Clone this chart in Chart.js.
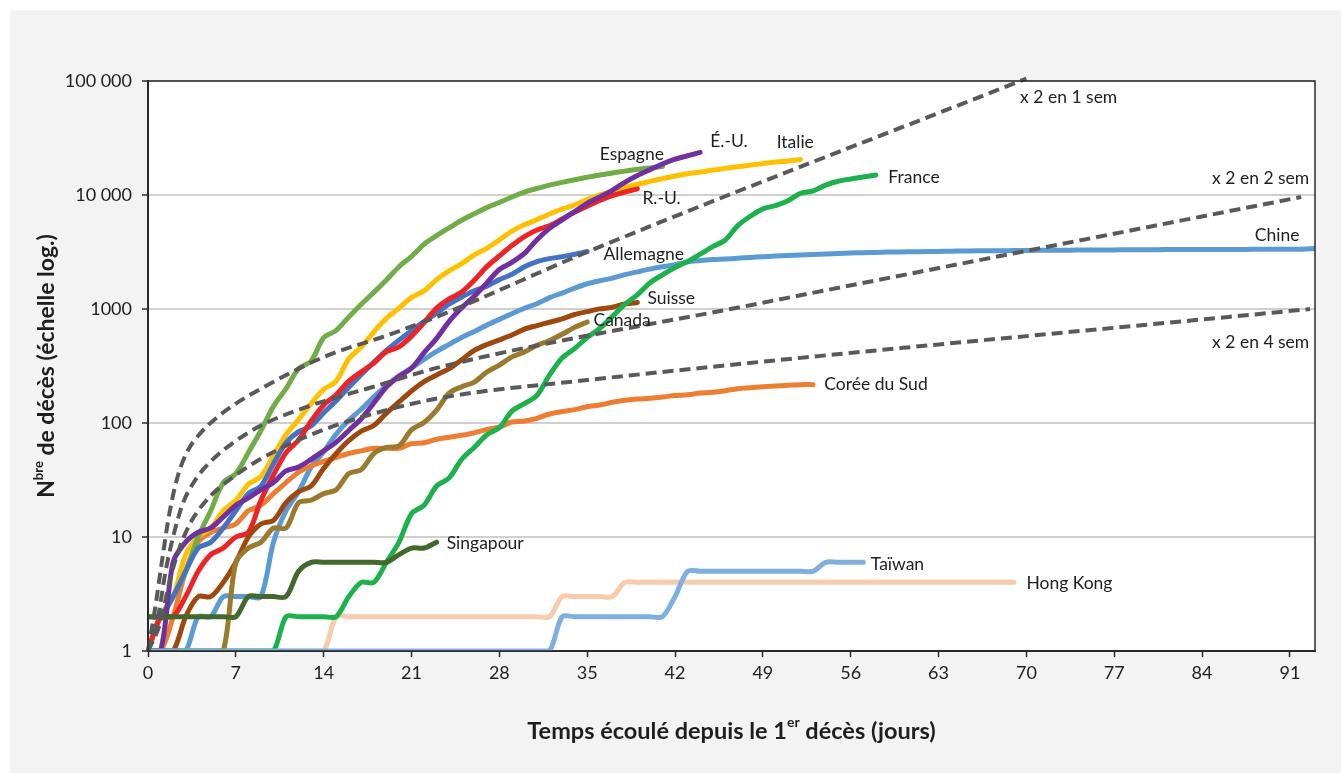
<!DOCTYPE html>
<html lang="fr">
<head>
<meta charset="utf-8">
<title>Décès cumulés depuis le 1er décès</title>
<script src="https://cdn.jsdelivr.net/npm/chart.js@4.4.0/dist/chart.umd.min.js"></script>
<style>
  html, body { margin: 0; padding: 0; background: #fff; }
  #wrap { width: 1341px; height: 773px; }
  canvas { display: block; }
</style>
</head>
<body>
<div id="wrap"><canvas id="chart" width="1341" height="773"></canvas></div>
<script>
// Cumul des décès, une valeur par jour à partir du 1er décès (jour 0)

const ESPAGNE = [1, 2, 3, 5, 10, 17, 30, 36, 55, 86, 140, 200, 300, 350, 560, 650, 850, 1100, 1400, 1800,
  2350, 2900, 3700, 4400, 5150, 6000, 6850, 7750, 8600, 9600, 10600, 11400, 12200, 12900, 13600, 14300,
  15000, 15600, 16200, 16800, 17300, 17800];

const ITALIE = [1, 2, 3, 7, 10, 12, 17, 21, 29, 34, 52, 79, 107, 148, 197, 233, 366, 463, 631, 827,
  1016, 1266, 1441, 1809, 2158, 2503, 2978, 3405, 4032, 4825, 5476, 6077, 6820, 7503, 8165, 9134,
  10023, 10779, 11591, 12428, 13155, 13915, 14681, 15362, 15887, 16523, 17127, 17669, 18279, 18849,
  19468, 19899, 20465];

const ETATS_UNIS = [1, 1, 6, 9, 11, 12, 15, 19, 22, 26, 30, 38, 41, 48, 57, 68, 86, 109, 150, 207,
  256, 302, 414, 553, 780, 1027, 1295, 1695, 2221, 2565, 3070, 4055, 5099, 6058, 7159, 8452, 9627,
  10993, 12912, 14817, 16689, 18719, 20608, 22087, 23644];

const ROYAUME_UNI = [1, 2, 2, 3, 5, 7, 8, 10, 11, 21, 35, 55, 71, 104, 144, 177, 233, 281, 335, 422,
  465, 578, 759, 1019, 1228, 1408, 1789, 2352, 2921, 3605, 4313, 4934, 5373, 6159, 7097, 7978, 8958,
  9875, 10612, 11329];

const ALLEMAGNE = [2, 2, 3, 5, 8, 9, 12, 17, 24, 28, 44, 67, 84, 94, 123, 157, 206, 267, 342, 433,
  533, 645, 775, 920, 1107, 1275, 1444, 1584, 1810, 2016, 2349, 2607, 2767, 2871, 3022, 3194];

const CHINE = [1, 1, 1, 1, 2, 2, 3, 3, 3, 3, 9, 17, 25, 41, 56, 80, 106, 132, 170, 213,
  259, 304, 361, 425, 490, 563, 636, 722, 811, 908, 1016, 1113, 1259, 1380, 1523, 1665, 1770, 1868,
  2004, 2118, 2236, 2345, 2442, 2592, 2663, 2715, 2744, 2788, 2835, 2870, 2912, 2943, 2981, 3012,
  3042, 3070, 3097, 3119, 3136, 3158, 3169, 3176, 3189, 3199, 3213, 3226, 3237, 3245, 3248, 3255,
  3261, 3270, 3277, 3281, 3287, 3292, 3295, 3300, 3304, 3305, 3312, 3318, 3322, 3326, 3330, 3331,
  3331, 3333, 3335, 3336, 3339, 3339, 3345, 3400];

const FRANCE = [1, 1, 1, 1, 1, 1, 1, 1, 1, 1, 1, 2, 2, 2, 2, 2, 3, 4, 4, 6, 9, 16, 19, 28, 33, 48,
  61, 79, 91, 127, 148, 175, 264, 372, 450, 562, 674, 860, 1100, 1331, 1696, 1995, 2314, 2606, 3024,
  3523, 4032, 5387, 6507, 7560, 8078, 8911, 10328, 10869, 12210, 13197, 13832, 14393, 14967];

const SUISSE = [1, 1, 1, 2, 3, 3, 4, 6, 10, 13, 14, 20, 25, 28, 40, 54, 70, 85, 95, 122, 153, 191,
  231, 264, 300, 359, 433, 488, 536, 591, 666, 715, 765, 821, 895, 948, 1002, 1036, 1106, 1138];

const CANADA = [1, 1, 1, 1, 1, 1, 1, 6, 8, 9, 12, 12, 20, 21, 24, 26, 36, 39, 54, 61, 63, 87, 101,
  130, 183, 208, 228, 280, 322, 380, 420, 480, 530, 600, 690, 770];

const COREE_DU_SUD = [1, 1, 2, 5, 9, 11, 12, 13, 17, 19, 24, 30, 37, 42, 46, 50, 54, 57, 60, 60,
  60, 66, 67, 72, 75, 78, 82, 88, 92, 102, 104, 110, 120, 126, 131, 139, 144, 152, 158, 162, 165,
  169, 174, 177, 183, 186, 192, 200, 204, 208, 211, 214, 217, 217];

const SINGAPOUR = [2, 2, 2, 2, 2, 2, 2, 2, 3, 3, 3, 3, 5, 6, 6, 6, 6, 6, 6, 6, 7, 8, 8, 9];

const TAIWAN = [1, 1, 1, 1, 1, 1, 1, 1, 1, 1, 1, 1, 1, 1, 1, 1, 1, 1, 1, 1, 1, 1, 1, 1, 1, 1, 1, 1,
  1, 1, 1, 1, 1, 2, 2, 2, 2, 2, 2, 2, 2, 2, 3, 5, 5, 5, 5, 5, 5, 5, 5, 5, 5, 5, 6, 6, 6, 6];

const HONG_KONG = [1, 1, 1, 1, 1, 1, 1, 1, 1, 1, 1, 1, 1, 1, 1, 2, 2, 2, 2, 2, 2, 2, 2, 2, 2, 2, 2,
  2, 2, 2, 2, 2, 2, 3, 3, 3, 3, 3, 4, 4, 4, 4, 4, 4, 4, 4, 4, 4, 4, 4, 4, 4, 4, 4, 4, 4, 4, 4, 4, 4,
  4, 4, 4, 4, 4, 4, 4, 4, 4, 4];

// Courbes de référence (doublement)
const X2_1SEM_DAYS = [0, 0.6, 1.1, 1.7, 2.4, 3.2, 4.2, 5.5, 7, 9, 13.9, 19.3, 23.3, 35, 70];
const X2_1SEM = [1, 2.5, 6, 16, 35, 58, 82, 112, 148, 200, 375, 600, 880, 3162, 105000];
const X2_2SEM_DAYS = [0, 0.8, 1.4, 2, 2.8, 3.8, 5, 6.7, 9, 12.6, 17.9, 23.3, 48, 91.9];
const X2_2SEM = [1, 2, 5, 10, 20, 32, 46, 66, 95, 138, 207, 310, 1080, 9600];
const X2_4SEM_DAYS = [0, 1, 1.7, 2.5, 3.5, 5, 6.7, 8.5, 12.6, 17.9, 23.3, 35, 92.6];
const X2_4SEM = [1, 1.8, 4, 8, 14, 23, 33, 45, 76, 120, 166, 238, 1000];

const X_TICKS = [0, 7, 14, 21, 28, 35, 42, 49, 56, 63, 70, 77, 84, 91];
const Y_TICKS = [1, 10, 100, 1000, 10000, 100000];

// ── styles ──────────────────────────────────────────────────────────────────
const FONT = 'Lato, "Noto Sans", sans-serif';
const INK = '#1e1e1e';

// de bas en haut
const SERIES = [
  { name: 'Chine',        data: CHINE,        color: '#5B9BD5' },
  { name: 'Hong Kong',    data: HONG_KONG,    color: '#F8CBAD' },
  { name: 'Corée du Sud', data: COREE_DU_SUD, color: '#ED7D31' },
  { name: 'Italie',       data: ITALIE,       color: '#FFC000' },
  { name: 'Espagne',      data: ESPAGNE,      color: '#70AD47' },
  { name: 'Allemagne',    data: ALLEMAGNE,    color: '#4472C4' },
  { name: 'R.-U.',        data: ROYAUME_UNI,  color: '#EE2326' },
  { name: 'Suisse',       data: SUISSE,       color: '#9E480E' },
  { name: 'Canada',       data: CANADA,       color: '#9A7A2C' },
  { name: 'France',       data: FRANCE,       color: '#1DB14E' },
  { name: 'É.-U.',        data: ETATS_UNIS,   color: '#7030A0' },
  { name: 'Singapour',    data: SINGAPOUR,    color: '#43682B' },
  { name: 'Taïwan',       data: TAIWAN,       color: '#7EAFDF' },
];

const REF_LINES = [
  { name: 'x 2 en 1 sem', days: X2_1SEM_DAYS, vals: X2_1SEM },
  { name: 'x 2 en 2 sem', days: X2_2SEM_DAYS, vals: X2_2SEM },
  { name: 'x 2 en 4 sem', days: X2_4SEM_DAYS, vals: X2_4SEM },
];

// étiquettes : ancrées en (jour, valeur), texte aligné à gauche
const LABELS = [
  { text: 'Espagne',      day: 36.0, value: 22900 },
  { text: 'É.-U.',        day: 44.8, value: 29700 },
  { text: 'Italie',       day: 50.1, value: 29200 },
  { text: 'France',       day: 59.0, value: 14400 },
  { text: 'R.-U.',        day: 39.4, value: 9400 },
  { text: 'Allemagne',    day: 36.3, value: 3030 },
  { text: 'Chine',        day: 88.2, value: 4450 },
  { text: 'Suisse',       day: 39.8, value: 1250 },
  { text: 'Canada',       day: 35.5, value: 800 },
  { text: 'Corée du Sud', day: 53.9, value: 220 },
  { text: 'Singapour',    day: 23.8, value: 8.85 },
  { text: 'Taïwan',       day: 57.6, value: 5.8 },
  { text: 'Hong Kong',    day: 70.0, value: 3.95 },
  { text: 'x 2 en 1 sem', day: 69.5, value: 72000 },
  { text: 'x 2 en 2 sem', day: 84.8, value: 14100 },
  { text: 'x 2 en 4 sem', day: 84.8, value: 505 },
];

// ── helpers ─────────────────────────────────────────────────────────────────
const perDay = arr => arr.map((v, d) => ({ x: d, y: v }));
const pairs = (xs, ys) => xs.map((x, i) => ({ x, y: ys[i] }));
const fmtTick = v => v >= 10000 ? String(v).replace(/\B(?=(\d{3})+(?!\d))/g, ' ') : String(v);

function drawRich(ctx, parts, size) {
  const big = `bold ${size}px ${FONT}`;
  const small = `bold ${Math.round(size * 0.58)}px ${FONT}`;
  let total = 0;
  parts.forEach(p => { ctx.font = p.sup ? small : big; p.w = ctx.measureText(p.t).width; total += p.w; });
  let x = -total / 2;
  parts.forEach(p => {
    ctx.font = p.sup ? small : big;
    ctx.fillText(p.t, x, p.sup ? -size * 0.36 : 0);
    x += p.w;
  });
}

// ── plugins ─────────────────────────────────────────────────────────────────
const backdrop = {
  id: 'backdrop',
  beforeDraw(chart) {
    const { ctx, chartArea: a } = chart;
    ctx.save();
    ctx.fillStyle = '#fff';
    ctx.fillRect(0, 0, chart.width, chart.height);
    ctx.fillStyle = '#f3f3f3';
    ctx.fillRect(10, 10, chart.width - 10, chart.height - 10);
    ctx.fillStyle = '#fff';
    ctx.fillRect(a.left, a.top, a.right - a.left, a.bottom - a.top);
    ctx.restore();
  },
  afterDatasetsDraw(chart) {
    const { ctx, chartArea: a } = chart;
    ctx.save();
    ctx.strokeStyle = '#2a2a2a';
    ctx.lineWidth = 1.5;
    ctx.strokeRect(a.left, a.top, a.right - a.left, a.bottom - a.top);
    ctx.restore();
  },
};

const annotations = {
  id: 'annotations',
  afterDraw(chart) {
    const { ctx, scales: { x, y }, chartArea: a } = chart;
    ctx.save();
    ctx.fillStyle = INK;
    ctx.textAlign = 'left';
    ctx.textBaseline = 'middle';
    ctx.font = `17.5px ${FONT}`;
    LABELS.forEach(l => ctx.fillText(l.text, x.getPixelForValue(l.day), y.getPixelForValue(l.value)));

    // titres d'axes avec exposants
    ctx.save();
    ctx.translate(47, (a.top + a.bottom) / 2);
    ctx.rotate(-Math.PI / 2);
    drawRich(ctx, [{ t: 'N' }, { t: 'bre', sup: true }, { t: ' de décès (échelle log.)' }], 23);
    ctx.restore();

    ctx.save();
    ctx.translate((a.left + a.right) / 2, 731);
    drawRich(ctx, [{ t: 'Temps écoulé depuis le 1' }, { t: 'er', sup: true }, { t: ' décès (jours)' }], 23.5);
    ctx.restore();
    ctx.restore();
  },
};

// ── datasets ────────────────────────────────────────────────────────────────
const datasets = [];
SERIES.forEach((s, i) => {
  datasets.push({
    label: s.name,
    data: perDay(s.data),
    borderColor: s.color,
    borderWidth: 5,
    pointRadius: 0,
    tension: 0.3,
    borderCapStyle: 'round',
    borderJoinStyle: 'round',
    order: 100 - i,
  });
});
REF_LINES.forEach((r, i) => {
  datasets.push({
    label: r.name,
    data: pairs(r.days, r.vals),
    borderColor: '#595959',
    borderWidth: 4,
    borderDash: [11, 6],
    pointRadius: 0,
    cubicInterpolationMode: 'monotone',
    clip: false,
    order: 10 - i,
  });
});

new Chart(document.getElementById('chart'), {
  type: 'line',
  data: { datasets },
  options: {
    responsive: false,
    animation: false,
    parsing: false,
    devicePixelRatio: 1,
    layout: { padding: { top: 81, right: 26, left: 0, bottom: 0 } },
    plugins: { legend: { display: false }, tooltip: { enabled: false } },
    scales: {
      x: {
        type: 'linear',
        min: 0,
        max: 93,
        afterBuildTicks(s) { s.ticks = X_TICKS.map(v => ({ value: v })); },
        ticks: { color: INK, font: { family: FONT, size: 18 }, padding: 5, maxRotation: 0, autoSkip: false },
        grid: { drawOnChartArea: false, tickLength: 6, tickColor: '#2a2a2a', tickWidth: 1.5 },
        border: { color: '#2a2a2a', width: 2 },
        afterFit(s) { s.height = 122; },
      },
      y: {
        type: 'logarithmic',
        min: 1,
        max: 100000,
        afterBuildTicks(s) { s.ticks = Y_TICKS.map(v => ({ value: v })); },
        ticks: { callback: v => fmtTick(v), color: INK, font: { family: FONT, size: 18 }, padding: 10 },
        grid: { color: '#cfcfcf', lineWidth: 2, tickLength: 6, tickColor: '#2a2a2a', tickWidth: 1.5 },
        border: { color: '#2a2a2a', width: 2 },
        afterFit(s) { s.width = 148; },
      },
    },
  },
  plugins: [backdrop, annotations],
});
</script>
</body>
</html>
